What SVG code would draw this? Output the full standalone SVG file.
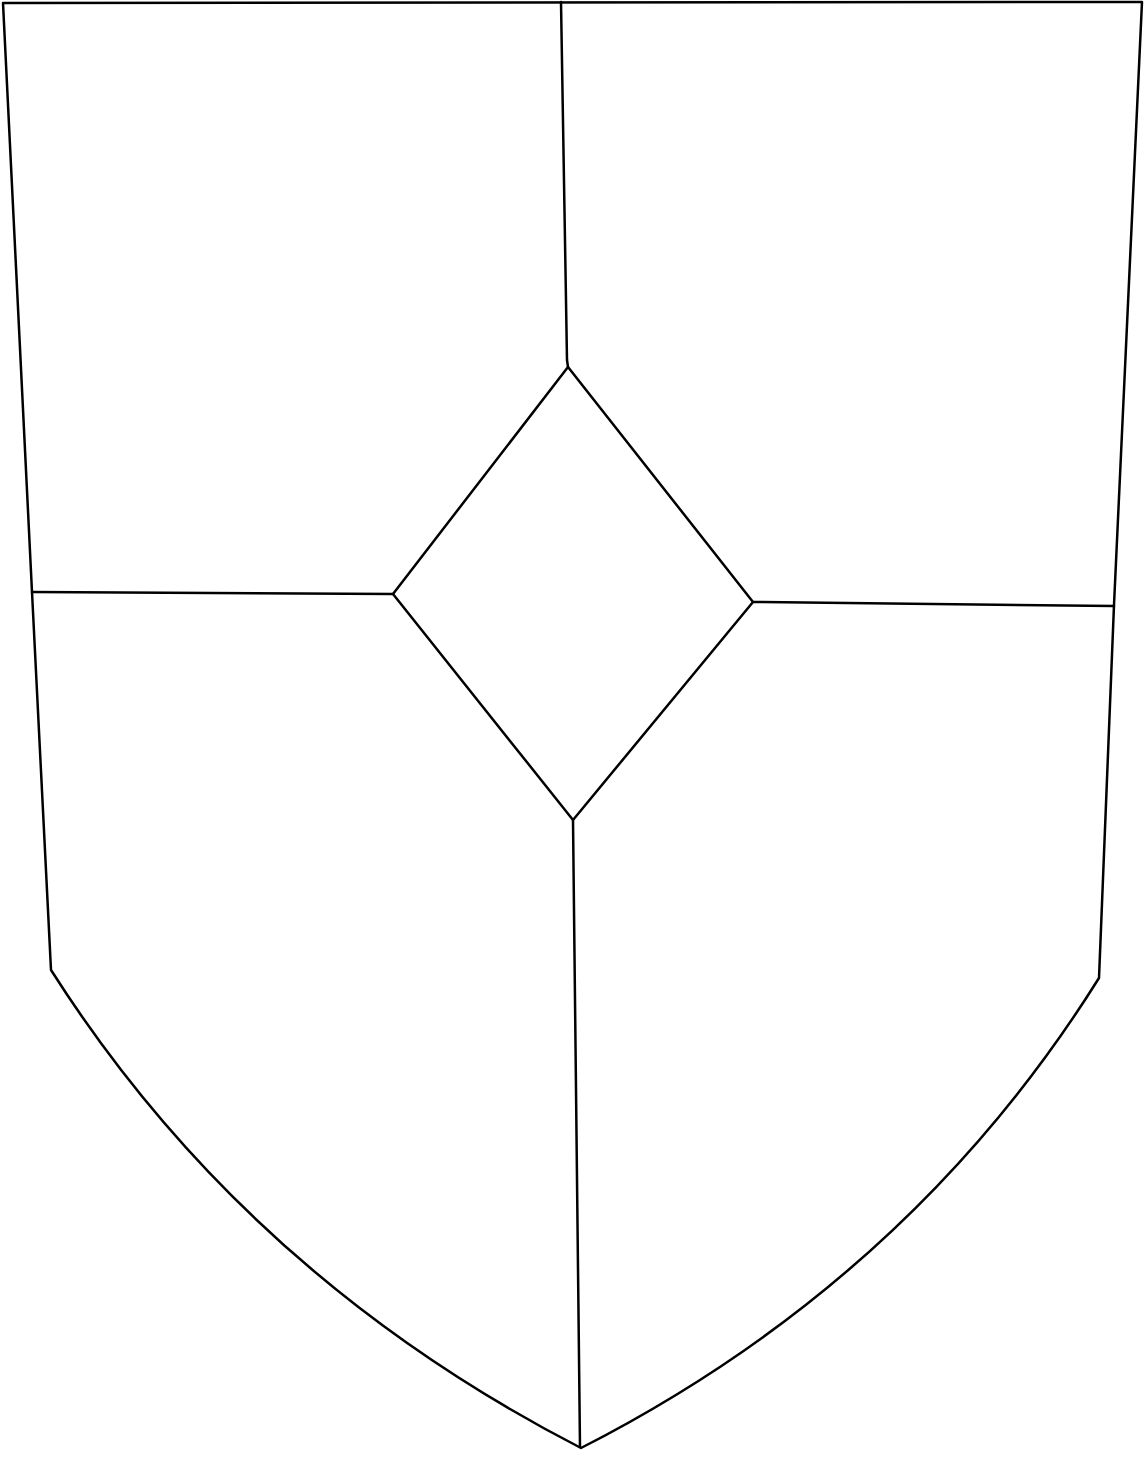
<svg xmlns="http://www.w3.org/2000/svg" width="1145" height="1458" viewBox="0 0 1145 1458">
<style>
.ln{fill:none;stroke:#000;stroke-width:2.5;stroke-linecap:round;stroke-linejoin:round}
</style>
<rect width="1145" height="1458" fill="#fff"/>
<g id="shield">
<path class="ln" d="M3,3 L1142,2 L1114,605 L1099,978 Q910,1280 581,1448 Q245,1275 51,970 L32,592 Z"/>
</g>
<g id="diamond">
<path class="ln" d="M568,367 L753,602 L573,820 L393,594 Z"/>
</g>
<g id="dividers">
<path class="ln" d="M561,2 L567,360 L568,367"/>
<path class="ln" d="M32,592 L393,594"/>
<path class="ln" d="M753,602 L1114,606"/>
<path class="ln" d="M573,820 L580,1447"/>
</g>
</svg>
